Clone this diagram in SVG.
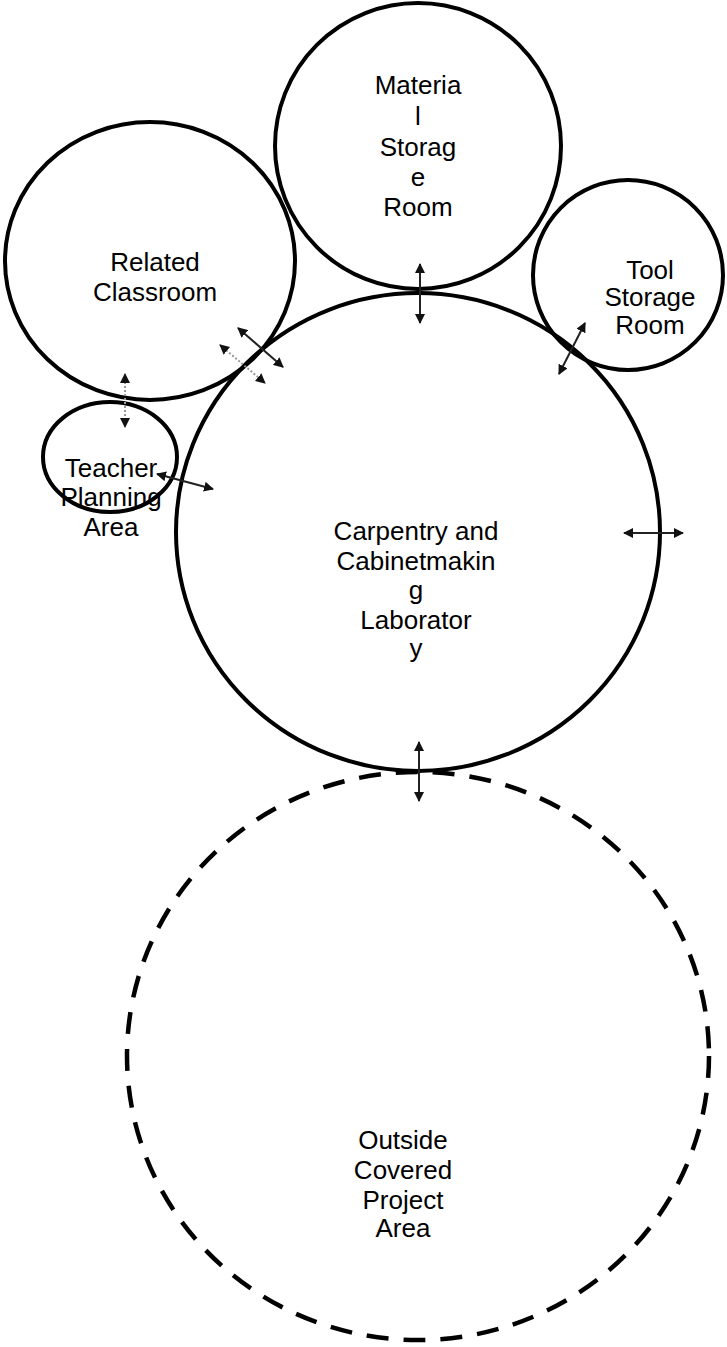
<svg xmlns="http://www.w3.org/2000/svg" width="727" height="1347" viewBox="0 0 727 1347">
<style>
.room{fill:none;stroke:#000;stroke-width:4}
.dash{fill:none;stroke:#000;stroke-width:4.5;stroke-dasharray:22 15}
.lbl{font-family:"Liberation Sans",Arial,sans-serif;font-size:26px;fill:#000;text-anchor:middle}
.arr{stroke:#222;stroke-width:2;fill:none;marker-start:url(#ah);marker-end:url(#ah)}
.dot{stroke:#999;stroke-width:2;stroke-dasharray:2 2;fill:none;marker-start:url(#ahd);marker-end:url(#ahd)}
</style>
<defs>
<marker id="ah" viewBox="0 0 10 10" refX="9" refY="5" markerWidth="5" markerHeight="5" orient="auto-start-reverse" markerUnits="strokeWidth"><path d="M0,0 L10,5 L0,10 z" fill="#111"/></marker>
<marker id="ahd" viewBox="0 0 10 10" refX="9" refY="5" markerWidth="5" markerHeight="5" orient="auto-start-reverse" markerUnits="strokeWidth"><path d="M0,0 L10,5 L0,10 z" fill="#111"/></marker>
</defs>
<rect width="727" height="1347" fill="#fff"/>
<g id="material-storage">
<circle class="room" cx="418" cy="146" r="143"/>
<text class="lbl"><tspan x="418" y="94">Materia</tspan><tspan x="418" y="125">l</tspan><tspan x="418" y="156">Storag</tspan><tspan x="418" y="186">e</tspan><tspan x="418" y="216">Room</tspan></text>
</g>
<g id="related-classroom">
<ellipse class="room" cx="150" cy="261" rx="145" ry="139"/>
<text class="lbl"><tspan x="155" y="271">Related</tspan><tspan x="155" y="301">Classroom</tspan></text>
</g>
<g id="tool-storage">
<circle class="room" cx="628" cy="275" r="95"/>
<text class="lbl"><tspan x="650" y="279">Tool</tspan><tspan x="650" y="306">Storage</tspan><tspan x="650" y="334">Room</tspan></text>
</g>
<g id="teacher-planning">
<ellipse class="room" cx="110" cy="457" rx="67" ry="55"/>
<text class="lbl"><tspan x="111" y="477">Teacher</tspan><tspan x="111" y="506">Planning</tspan><tspan x="111" y="536">Area</tspan></text>
</g>
<g id="carpentry-lab">
<ellipse class="room" cx="418" cy="532" rx="242" ry="239"/>
<text class="lbl"><tspan x="416" y="540">Carpentry and</tspan><tspan x="416" y="570">Cabinetmakin</tspan><tspan x="416" y="599">g</tspan><tspan x="416" y="629">Laborator</tspan><tspan x="416" y="657">y</tspan></text>
</g>
<g id="outside-project-area">
<ellipse class="dash" cx="418" cy="1056" rx="291" ry="284"/>
<text class="lbl"><tspan x="403" y="1149">Outside</tspan><tspan x="403" y="1179">Covered</tspan><tspan x="403" y="1209">Project</tspan><tspan x="403" y="1237">Area</tspan></text>
</g>
<g id="connectors">
<line class="arr" x1="420" y1="264" x2="420" y2="323"/>
<line class="arr" x1="238" y1="328" x2="283" y2="367"/>
<line class="dot" x1="220" y1="345" x2="265" y2="383"/>
<line class="arr" x1="585" y1="323" x2="559" y2="374"/>
<line class="dot" x1="125" y1="374" x2="125" y2="427"/>
<line class="arr" x1="157" y1="474" x2="213" y2="489"/>
<line class="arr" x1="624" y1="533" x2="683" y2="533"/>
<line class="arr" x1="419" y1="742" x2="419" y2="801"/>
</g>
</svg>
